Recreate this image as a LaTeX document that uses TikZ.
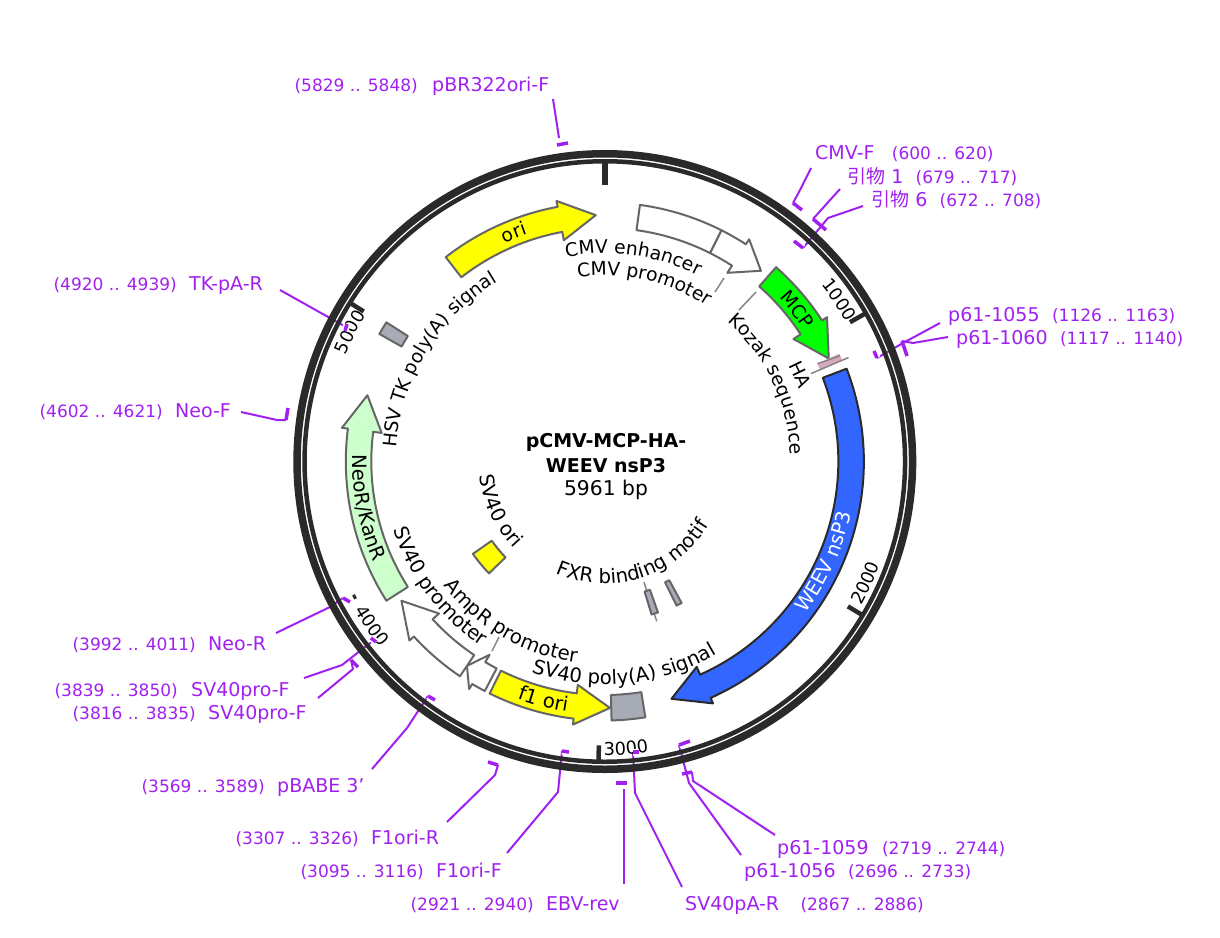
\documentclass[tikz,border=0pt]{standalone}
\usepackage{fontspec}
\setmainfont{DejaVu Sans}
\newfontfamily\cjk{Noto Sans CJK SC}
\usetikzlibrary{positioning,decorations.text}
\definecolor{primerpurple}{HTML}{A020F0}
\definecolor{ringblack}{HTML}{2A2A2A}
\definecolor{featgrey}{HTML}{666666}
\definecolor{termgrey}{HTML}{A6ABB5}
\definecolor{weevblue}{HTML}{3366FF}
\definecolor{neogreen}{HTML}{CCFFCC}
\definecolor{mcpgreen}{HTML}{00FF00}
\definecolor{orfyellow}{HTML}{FFFF00}
\definecolor{hapink}{HTML}{D8A8C0}
\def\rinner{233.5}
\def\router{259}
\def\rheadin{225}
\def\rheadout{265}
\def\rtip{246.5}
\def\cwsize{18.7}
\def\ccwsize{19.7}
\def\arrowfeat#1#2#3#4{\draw[#1] ({#2-90}:\rinner) arc[start angle=#2-90,end angle=#3-90,radius=\rinner] -- ({#3-90}:\rheadin) -- ({#4-90}:\rtip) -- ({#3-90}:\rheadout) -- ({#3-90}:\router) arc[start angle=#3-90,end angle=#2-90,radius=\router] -- cycle;}
\def\boxfeat#1#2#3#4#5{\draw[#1] ({#2-90}:#4) arc[start angle=#2-90,end angle=#3-90,radius=#4] -- ({#3-90}:#5) arc[start angle=#3-90,end angle=#2-90,radius=#5] -- cycle;}
\def\cwlabel#1#2#3{\path[decorate,decoration={text along path,text align=center,text={|\fontsize{\cwsize}{20}\selectfont|#3}}] ({#1-160}:#2) arc[start angle=#1-160,end angle=#1-20,radius=#2];}
\def\ccwlabel#1#2#3{\path[decorate,decoration={text along path,text align=center,text={|\fontsize{\ccwsize}{20}\selectfont|#3}}] ({#1-20}:#2) arc[start angle=#1-20,end angle=#1-160,radius=#2];}
\def\whiteccwlabel#1#2#3{\path[decorate,decoration={text along path,text align=center,text={|\fontsize{\ccwsize}{20}\selectfont\color{white}|#3}}] ({#1-20}:#2) arc[start angle=#1-20,end angle=#1-160,radius=#2];}
\tikzset{
  primer/.style={text=primerpurple,inner sep=0pt,font=\fontsize{19}{20}\selectfont},
  span/.style={text=primerpurple,inner sep=0pt,font=\fontsize{17}{20}\selectfont},
  primerline/.style={primerpurple,line width=2pt},
  primertick/.style={primerpurple,line width=3.5pt},
  primerhalo/.style={primertick,preaction={draw,white,line width=7pt}},
  whitefeat/.style={draw=featgrey,fill=white,line width=2pt,line join=round},
  yellowfeat/.style={draw=featgrey,fill=orfyellow,line width=2pt,line join=round},
  termfeat/.style={draw=featgrey,fill=termgrey,line width=2pt,line join=round},
  scalemark/.style={ringblack,line width=4.5pt},
  leader/.style={featgrey!80,line width=1.5pt},
  centertext/.style={inner sep=0pt,text=black},
}
\begin{document}
\begin{tikzpicture}[x=1pt,y=-1pt]
    \useasboundingbox (0,0) rectangle (1220,937);

    % primer labels, top and right
    \node[primer,anchor=base west] (pBRF) at (432,91) {pBR322ori-F};
    \node[span,base left=14pt of pBRF] (pBRFpos) {(5829 .. 5848)};
    \node[primer,anchor=base west] (CMVF) at (815,159) {CMV-F};
    \node[span,base right=17pt of CMVF] (CMVFpos) {(600 .. 620)};
    \node[primer,anchor=base west] (PrimerOne) at (847,183) {{\cjk 引物} 1};
    \node[span,base right=12pt of PrimerOne] (PrimerOnepos) {(679 .. 717)};
    \node[primer,anchor=base west] (PrimerSix) at (871,206) {{\cjk 引物} 6};
    \node[span,base right=12pt of PrimerSix] (PrimerSixpos) {(672 .. 708)};
    \node[primer,anchor=base west] (pA) at (948,321) {p61-1055};
    \node[span,base right=12pt of pA] (pApos) {(1126 .. 1163)};
    \node[primer,anchor=base west] (pB) at (956,344) {p61-1060};
    \node[span,base right=12pt of pB] (pBpos) {(1117 .. 1140)};

    % primer labels, left
    \node[primer,anchor=base west] (TKpA) at (189,290) {TK-pA-R};
    \node[span,base left=12pt of TKpA] (TKpApos) {(4920 .. 4939)};
    \node[primer,anchor=base west] (NeoF) at (175,417) {Neo-F};
    \node[span,base left=12pt of NeoF] (NeoFpos) {(4602 .. 4621)};
    \node[primer,anchor=base west] (NeoR) at (208,650) {Neo-R};
    \node[span,base left=12pt of NeoR] (NeoRpos) {(3992 .. 4011)};
    \node[primer,anchor=base west] (SVproA) at (191,696) {SV40pro-F};
    \node[span,base left=13pt of SVproA] (SVproApos) {(3839 .. 3850)};
    \node[primer,anchor=base west] (SVproB) at (208,719) {SV40pro-F};
    \node[span,base left=12pt of SVproB] (SVproBpos) {(3816 .. 3835)};
    \node[primer,anchor=base west] (pBABE) at (277,792) {pBABE 3'};
    \node[span,base left=12pt of pBABE] (pBABEpos) {(3569 .. 3589)};
    \node[primer,anchor=base west] (OriR) at (371,844) {F1ori-R};
    \node[span,base left=12pt of OriR] (OriRpos) {(3307 .. 3326)};
    \node[primer,anchor=base west] (OriF) at (436,877) {F1ori-F};
    \node[span,base left=12pt of OriF] (OriFpos) {(3095 .. 3116)};
    \node[primer,anchor=base west] (EBV) at (546,910) {EBV-rev};
    \node[span,base left=12pt of EBV] (EBVpos) {(2921 .. 2940)};

    % primer labels, bottom right
    \node[primer,anchor=base west] (SVpA) at (685,910) {SV40pA-R};
    \node[span,base right=21pt of SVpA] (SVpApos) {(2867 .. 2886)};
    \node[primer,anchor=base west] (pD) at (777,854) {p61-1059};
    \node[span,base right=13pt of pD] (pDpos) {(2719 .. 2744)};
    \node[primer,anchor=base west] (pC) at (744,877) {p61-1056};
    \node[span,base right=12pt of pC] (pCpos) {(2696 .. 2733)};

    % where the primer lines start, bend and end
    \coordinate (a1) at (553,99); \coordinate (a2) at (559,138); \coordinate (a3) at (557,145); \coordinate (a4) at (568,143);
    \coordinate (b1) at (811,168); \coordinate (b2) at (800,190); \coordinate (b3) at (793,203); \coordinate (b4) at (802,210);
    \coordinate (c1) at (840,189); \coordinate (c2) at (813,219); \coordinate (c3) at (826,230);
    \coordinate (d1) at (863,206); \coordinate (d2) at (828,218); \coordinate (d3) at (803,248); \coordinate (d4) at (794,241);
    \coordinate (e1) at (940,323); \coordinate (e2) at (903,343); \coordinate (e3) at (877,358); \coordinate (e4) at (874,351);
    \coordinate (f1) at (948,337); \coordinate (f2) at (913,343); \coordinate (f3) at (902,341); \coordinate (f4) at (907,356);
    \coordinate (g1) at (280,290); \coordinate (g2) at (346,327); \coordinate (g3) at (347,324); \coordinate (g4) at (345,331);
    \coordinate (h1) at (241,412); \coordinate (h2) at (277,420); \coordinate (h3) at (286,420); \coordinate (h4) at (288,408);
    \coordinate (i1) at (276,633); \coordinate (i2) at (330,607); \coordinate (i3) at (343,598); \coordinate (i4) at (350,602);
    \coordinate (j1) at (304,678); \coordinate (j2) at (342,665); \coordinate (j3) at (374,640); \coordinate (j4) at (371,638); \coordinate (j5) at (376,642);
    \coordinate (k1) at (318,698); \coordinate (k2) at (353,669); \coordinate (k3) at (351,660); \coordinate (k4) at (358,667);
    \coordinate (l1) at (372,769); \coordinate (l2) at (407,728); \coordinate (l3) at (428,696); \coordinate (l4) at (435,700);
    \coordinate (m1) at (447,822); \coordinate (m2) at (495,775); \coordinate (m3) at (498,765); \coordinate (m4) at (488,762);
    \coordinate (n1) at (507,853); \coordinate (n2) at (558,792); \coordinate (n3) at (562,751); \coordinate (n4) at (569,752);
    \coordinate (o1) at (624,884); \coordinate (o2) at (624,789); \coordinate (o3) at (616,783); \coordinate (o4) at (627,783);
    \coordinate (p1) at (682,887); \coordinate (p2) at (635,793); \coordinate (p3) at (633,752); \coordinate (p4) at (639,752);
    \coordinate (q1) at (741,855); \coordinate (q2) at (689,783); \coordinate (q3) at (679,745); \coordinate (q4) at (690,741);
    \coordinate (r1) at (775,835); \coordinate (r2) at (693,781); \coordinate (r3) at (692,772); \coordinate (r4) at (682,774);

    \draw[primerline] (a1) -- (a2);
    \draw[primerline] (b1) -- (b2) -- (b3);
    \draw[primerline] (c1) -- (c2);
    \draw[primerline] (d1) -- (d2) -- (d3);
    \draw[primerline] (e1) -- (e2) -- (e3);
    \draw[primerline] (f1) -- (f2) -- (f3);
    \draw[primerline] (g1) -- (g2);
    \draw[primerline] (h1) -- (h2) -- (h3);
    \draw[primerline] (i1) -- (i2) -- (i3);
    \draw[primerline] (j1) -- (j2) -- (j3);
    \draw[primerline] (k1) -- (k2) -- (k3);
    \draw[primerline] (l1) -- (l2) -- (l3);
    \draw[primerline] (m1) -- (m2) -- (m3);
    \draw[primerline] (n1) -- (n2) -- (n3);
    \draw[primerline] (o1) -- (o2);
    \draw[primerline] (p1) -- (p2) -- (p3);
    \draw[primerline] (q1) -- (q2) -- (q3);
    \draw[primerline] (r1) -- (r2) -- (r3);

    \begin{scope}[shift={(604.8,461.5)}]
        % backbone
        \draw[ringblack,line width=7.5pt] (0,0) circle[radius=307.75];
        \draw[ringblack,line width=4.5pt] (0,0) circle[radius=300.25];

        % scale marks
        \draw[ringblack,line width=6pt] (-90:299) -- (-90:276.5);
        \draw[scalemark] (-29.6:299) -- (-29.6:282);
        \draw[scalemark] (30.8:299) -- (30.8:283);
        \draw[scalemark] (91.2:299) -- (91.2:284);
        \draw[scalemark] (151.6:286) -- (151.6:283);
        \draw[scalemark] (211.9:299) -- (211.9:284);
        \def\cwsize{17.7}
        \def\ccwsize{17.7}
        \cwlabel{55.4}{279}{1000}
        \ccwlabel{115}{294}{2000}
        \ccwlabel{175.8}{294}{3000}
        \ccwlabel{234.8}{291}{4000}
        \cwlabel{296.9}{280}{5000}
        \def\cwsize{18.7}
        \def\ccwsize{19.7}

        % features
        \boxfeat{whitefeat}{7.8}{26.8}{\rinner}{\router}
        \arrowfeat{whitefeat}{26.8}{33}{39.3}
        \arrowfeat{yellowfeat}{-37.9}{-10.5}{-2.1}
        \arrowfeat{draw=featgrey,fill=mcpgreen,line width=2pt,line join=round}{41.4}{57}{65.3}
        \arrowfeat{draw=ringblack,fill=weevblue,line width=2pt,line join=round}{69}{155.9}{164.3}
        \boxfeat{termfeat}{171}{178.5}{\rinner}{\router}
        \arrowfeat{yellowfeat}{206.4}{186.9}{178.8}
        \arrowfeat{whitefeat}{207.6}{210.8}{214}
        \arrowfeat{whitefeat}{214}{227.5}{235.6}
        \arrowfeat{draw=featgrey,fill=neogreen,line width=2pt,line join=round}{237.5}{277.3}{285.6}
        \boxfeat{termfeat}{299.5}{302.5}{\rinner}{\router}
        \boxfeat{yellowfeat}{226}{235}{138}{161}
        \boxfeat{termfeat}{151.5}{153.5}{135}{161}
        \draw[leader] (72:127) -- (72:168);
        \boxfeat{termfeat}{160.6}{163}{136}{160}
        \boxfeat{draw=none,fill=hapink}{65.3}{67}{234}{258}
        \draw[leader] (-24.7:234) -- (-24.2:258);
        \draw[leader] (-23.1:224) -- (-23.1:265);

        % feature names
        \cwlabel{8}{208}{CMV enhancer}
        \cwlabel{12.5}{186}{CMV promoter}
        \cwlabel{-21.7}{240}{ori}
        \cwlabel{51.7}{239}{MCP}
        \cwlabel{64.5}{186}{Kozak sequence}
        \cwlabel{66}{207}{HA}
        \cwlabel{301.5}{209}{HSV TK poly(A) signal}
        \whiteccwlabel{114.5}{251.5}{WEEV nsP3}
        \ccwlabel{194.4}{253}{f1 ori}
        \ccwlabel{174.5}{223}{SV40 poly(A) signal}
        \ccwlabel{210.2}{203}{AmpR promoter}
        \ccwlabel{233}{222}{SV40 promoter}
        \ccwlabel{259}{252}{NeoR/KanR}
        \ccwlabel{162.7}{122}{FXR binding motif}
        \ccwlabel{245}{126}{SV40 ori}
    \end{scope}

    % short grey leaders
    \coordinate (s1) at (715,292); \coordinate (s2) at (724,278);
    \coordinate (t1) at (739,310); \coordinate (t2) at (756,292);
    \coordinate (u1) at (492,651); \coordinate (u2) at (499,637);
    \draw[leader] (s1) -- (s2);
    \draw[leader] (t1) -- (t2);
    \draw[leader] (u1) -- (u2);

    % primer marks
    \draw[primertick] (a3) -- (a4);
    \draw[primertick] (b3) -- (b4);
    \draw[primertick] (c2) -- (c3);
    \draw[primerhalo] (d3) -- (d4);
    \draw[primerhalo] (e3) -- (e4);
    \draw[primertick] (f3) -- (f4);
    \draw[primerhalo] (g3) -- (g4);
    \draw[primertick] (h3) -- (h4);
    \draw[primerhalo] (i3) -- (i4);
    \draw[primerhalo] (j4) -- (j5);
    \draw[primertick] (k3) -- (k4);
    \draw[primerhalo] (l3) -- (l4);
    \draw[primertick] (m3) -- (m4);
    \draw[primerhalo] (n3) -- (n4);
    \draw[primertick] (o3) -- (o4);
    \draw[primerhalo] (p3) -- (p4);
    \draw[primerhalo] (q3) -- (q4);
    \draw[primertick] (r3) -- (r4);

    % plasmid name
    \node[centertext,font=\fontsize{19}{20}\selectfont\bfseries] (title) at (606,442) {pCMV-MCP-HA-};
    \node[centertext,font=\fontsize{19}{20}\selectfont\bfseries,below=7pt of title] (subtitle) {WEEV nsP3};
    \node[centertext,font=\fontsize{20.3}{22}\selectfont,below=7pt of subtitle] (size) {5961 bp};
\end{tikzpicture}
\end{document}
